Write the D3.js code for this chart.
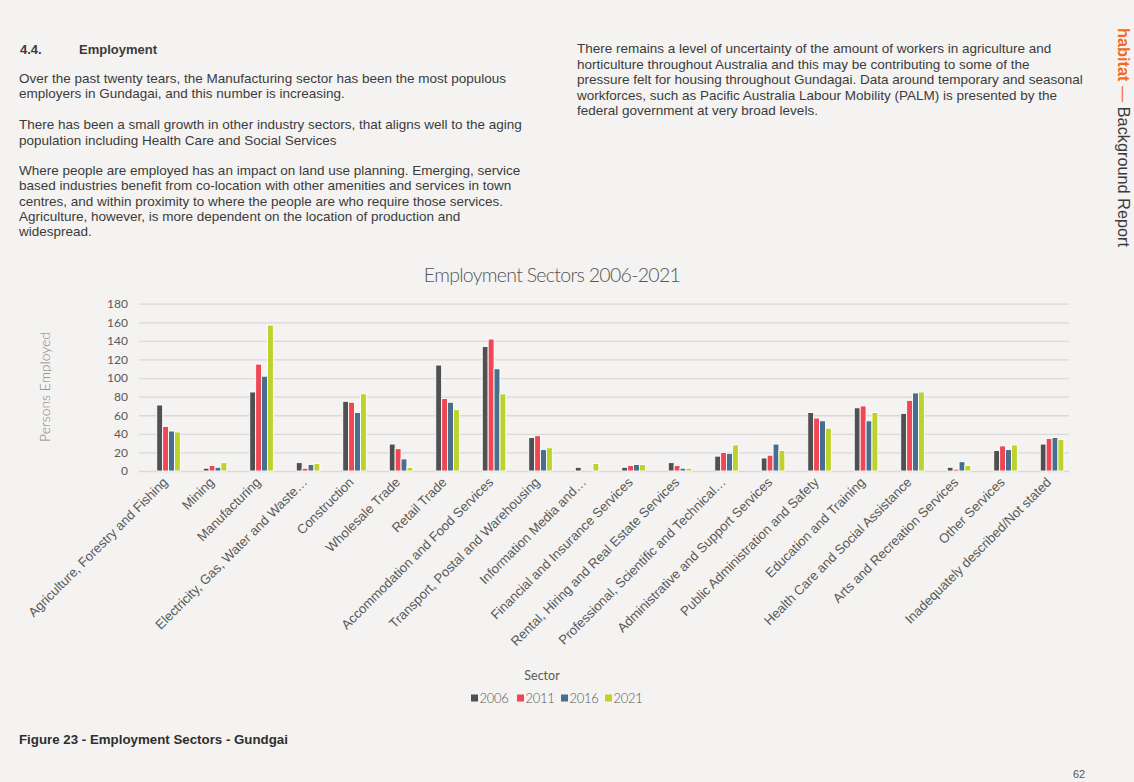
<!DOCTYPE html>
<html>
<head>
<meta charset="utf-8">
<script src="https://cdn.jsdelivr.net/npm/d3@7/dist/d3.min.js"></script>
<style>
  html, body { margin: 0; padding: 0; background: #f4f3f1; }
  svg { display: block; }
</style>
</head>
<body>
<svg id="page" width="1134" height="782"></svg>
<script>
const categories = [
  "Agriculture, Forestry and Fishing", "Mining", "Manufacturing", "Electricity, Gas, Water and Waste…",
  "Construction", "Wholesale Trade", "Retail Trade", "Accommodation and Food Services",
  "Transport, Postal and Warehousing", "Information Media and…", "Financial and Insurance Services",
  "Rental, Hiring and Real Estate Services", "Professional, Scientific and Technical…",
  "Administrative and Support Services", "Public Administration and Safety", "Education and Training",
  "Health Care and Social Assistance", "Arts and Recreation Services", "Other Services",
  "Inadequately described/Not stated"
];
const years = ["2006", "2011", "2016", "2021"];
const values2006 = [71, 3, 85, 9, 75, 29, 114, 134, 36, 4, 4, 9, 16, 14, 63, 68, 62, 4, 22, 29];
const values2011 = [48, 6, 115, 3, 74, 24, 78, 142, 38, 0, 6, 6, 20, 17, 57, 70, 76, 2, 27, 35];
const values2016 = [43, 4, 102, 7, 63, 13, 74, 110, 23, 0, 7, 3, 19, 29, 54, 54, 84, 10, 23, 36];
const values2021 = [42, 9, 157, 8, 83, 4, 66, 83, 25, 8, 7, 3, 28, 22, 46, 63, 85, 6, 28, 34];
const yTicks = [0, 20, 40, 60, 80, 100, 120, 140, 160, 180];
const seriesValues = [values2006, values2011, values2016, values2021];
const colors = ["#505050", "#ef4756", "#4a6e8d", "#bdd22c"];

const svg = d3.select("#page");
const bodyFont = "'Liberation Sans', Arial, sans-serif";
const chartFont = "Lato, 'Open Sans', sans-serif";

// ---- Page text ----
const leftLines = [
  {t: "Over the past twenty tears, the Manufacturing sector has been the most populous", y: 83},
  {t: "employers in Gundagai, and this number is increasing.", y: 98},
  {t: "There has been a small growth in other industry sectors, that aligns well to the aging", y: 129},
  {t: "population including Health Care and Social Services", y: 145},
  {t: "Where people are employed has an impact on land use planning. Emerging, service", y: 175},
  {t: "based industries benefit from co-location with other amenities and services in town", y: 190},
  {t: "centres, and within proximity to where the people are who require those services.", y: 206},
  {t: "Agriculture, however, is more dependent on the location of production and", y: 221},
  {t: "widespread.", y: 236}
];
const rightLines = [
  {t: "There remains a level of uncertainty of the amount of workers in agriculture and", y: 53},
  {t: "horticulture throughout Australia and this may be contributing to some of the", y: 69},
  {t: "pressure felt for housing throughout Gundagai. Data around temporary and seasonal", y: 84},
  {t: "workforces, such as Pacific Australia Labour Mobility (PALM) is presented by the", y: 100},
  {t: "federal government at very broad levels.", y: 115}
];
const txtColor = "#3b3b3b";
svg.append("text").attr("x", 20).attr("y", 54).attr("font-family", bodyFont).attr("font-size", 13)
  .attr("font-weight", "bold").attr("fill", txtColor).text("4.4.");
svg.append("text").attr("x", 79).attr("y", 54).attr("font-family", bodyFont).attr("font-size", 13)
  .attr("font-weight", "bold").attr("fill", txtColor).text("Employment");
svg.selectAll("text.left").data(leftLines).enter().append("text").attr("class", "left")
  .attr("x", 19).attr("y", d => d.y).attr("font-family", bodyFont).attr("font-size", 13.5)
  .attr("fill", txtColor).text(d => d.t);
svg.selectAll("text.right").data(rightLines).enter().append("text").attr("class", "right")
  .attr("x", 577).attr("y", d => d.y).attr("font-family", bodyFont).attr("font-size", 13.5)
  .attr("fill", txtColor).text(d => d.t);

// vertical side text
const side = svg.append("text").attr("transform", "translate(1118,28) rotate(90)")
  .attr("font-family", bodyFont).attr("font-size", 16.3);
side.append("tspan").attr("fill", "#f26a21").attr("font-weight", "bold").text("habitat");
side.append("tspan").attr("fill", "#f26a21").text(" — ");
side.append("tspan").attr("fill", "#3b3b3b").text("Background Report");

svg.append("text").attr("x", 19).attr("y", 744).attr("font-family", bodyFont).attr("font-size", 13.3)
  .attr("font-weight", "bold").attr("fill", "#2e2e2e").text("Figure 23 - Employment Sectors - Gundgai");
svg.append("text").attr("x", 1073).attr("y", 778).attr("font-family", bodyFont).attr("font-size", 11)
  .attr("fill", "#555").text("62");

// ---- Chart ----
const y = d3.scaleLinear().domain([0, 180]).range([471, 303.7]);
const x = d3.scaleBand().domain(categories).range([145.3, 1075.3]).paddingInner(0).paddingOuter(0);
const xs = d3.scaleBand().domain(years).range([0, 23.6]).padding(0);
const groupOffset = (x.bandwidth() - 23.6) / 2;

svg.append("text").attr("x", 552).attr("y", 282).attr("text-anchor", "middle")
  .attr("font-family", chartFont).attr("font-weight", 300).attr("font-size", 19.5)
  .attr("letter-spacing", -0.7).attr("fill", "#555555").text("Employment Sectors 2006-2021");

// gridlines
const grid = svg.append("g").attr("transform", "translate(139,0)")
  .call(d3.axisLeft(y).tickValues(yTicks).tickSize(-930).tickFormat(""));
grid.select(".domain").remove();
grid.selectAll(".tick line").attr("stroke", "#d9d9d9").attr("stroke-width", 1.3);

// y tick labels
const yAxis = svg.append("g").attr("transform", "translate(130,0)")
  .call(d3.axisLeft(y).tickValues(yTicks).tickSize(0).tickPadding(2));
yAxis.select(".domain").remove();
yAxis.selectAll("text").attr("font-family", chartFont).attr("font-size", 12).attr("fill", "#595959");

// bars
const data = [];
categories.forEach((c, i) => years.forEach((yr, j) => data.push({c, yr, v: seriesValues[j][i], j})));
svg.append("g").selectAll("rect").data(data.filter(d => d.v > 0)).enter().append("rect")
  .attr("x", d => x(d.c) + groupOffset + xs(d.yr))
  .attr("width", xs.bandwidth())
  .attr("y", d => y(d.v))
  .attr("height", d => y(0) - y(d.v))
  .attr("fill", d => colors[d.j])
  .attr("stroke", "#ffffff").attr("stroke-width", 0.9);

// x axis labels
const xAxis = svg.append("g").attr("transform", "translate(0,471)")
  .call(d3.axisBottom(x).tickSize(0).tickPadding(0));
xAxis.select(".domain").remove();
xAxis.selectAll(".tick text")
  .attr("font-family", bodyFont).attr("font-size", 13.2).attr("fill", "#595959")
  .attr("text-anchor", "end")
  .attr("transform", "translate(0,12) rotate(-45)")
  .attr("dy", "0");

// axis titles
svg.append("text").attr("transform", "translate(50,387) rotate(-90)").attr("text-anchor", "middle")
  .attr("font-family", chartFont).attr("font-weight", 300).attr("font-size", 14)
  .attr("textLength", 110).attr("lengthAdjust", "spacingAndGlyphs")
  .attr("fill", "#7f7f7f").text("Persons Employed");
svg.append("text").attr("x", 542).attr("y", 680).attr("text-anchor", "middle")
  .attr("font-family", chartFont).attr("font-size", 12.5).attr("fill", "#595959").text("Sector");

// legend
const legendX = [471, 517, 561, 605];
const legend = svg.append("g").selectAll("g").data(years).enter().append("g")
  .attr("transform", (d, i) => `translate(${legendX[i]},698)`);
legend.append("rect").attr("x", 0).attr("y", -3.5).attr("width", 7).attr("height", 7)
  .attr("fill", (d, i) => colors[i]);
legend.append("text").attr("x", 8.5).attr("y", 4.5).attr("font-family", chartFont).attr("font-weight", 300)
  .attr("font-size", 13).attr("letter-spacing", -0.3).attr("fill", "#595959").text(d => d);
</script>
</body>
</html>
